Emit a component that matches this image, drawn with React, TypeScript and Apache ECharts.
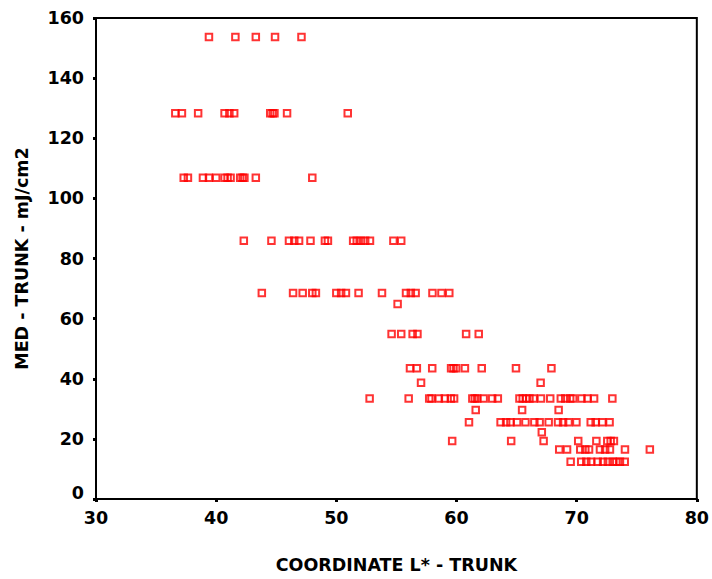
import React, { useEffect, useRef } from "react";
import * as echarts from "echarts";

// MED levels (y) and the L* values (x) observed at each level
const medLevels = [153.7, 128.3, 106.9, 85.9, 68.5, 64.9, 54.9, 43.5, 38.7, 33.4, 29.6, 25.5, 22.2, 19.3, 16.5, 12.4];

const lAt154 = [39.4, 41.6, 43.3, 44.9, 47.1];
const lAt128 = [36.6, 37.15, 38.5, 40.7, 41.1, 41.5, 44.5, 44.7, 44.85, 45.9, 50.95];
const lAt107 = [37.3, 37.65, 38.9, 39.4, 40.0, 40.7, 40.95, 41.2, 42.0, 42.2, 42.35, 43.3, 48.0];
const lAt86 = [42.3, 44.6, 46.06, 46.5, 46.9, 47.85, 49.05, 49.3, 51.4, 51.7, 52.05, 52.4, 52.8, 54.75, 55.4];
const lAt69 = [43.8, 46.4, 47.2, 48.0, 48.3, 50.0, 50.4, 50.8, 51.85, 53.8, 55.8, 56.2, 56.6, 58.0, 58.75, 59.4];
const lAt65 = [55.1];
const lAt55 = [54.6, 55.4, 56.35, 56.75, 60.8, 61.85];
const lAt44 = [56.13, 56.7, 57.98, 59.55, 59.75, 59.97, 60.7, 62.1, 64.95, 67.9];
const lAt39 = [57.05, 67.0];
const lAt34 = [52.77, 56.02, 57.73, 57.92, 58.53, 59.03, 59.53, 59.8, 61.32, 61.52, 61.73, 62.26, 62.97, 63.44, 65.24, 65.51, 65.79, 66.07, 66.42, 67.03, 67.8, 68.68, 69.05, 69.46, 69.71, 70.4, 70.9, 71.45, 72.97];
const lAt30 = [61.6, 65.46, 68.5];
const lAt26 = [61.04, 63.67, 64.13, 64.49, 65.04, 65.74, 66.48, 66.92, 67.67, 68.45, 68.87, 69.32, 69.98, 71.17, 71.58, 72.14, 72.74];
const lAt22 = [67.1];
const lAt19 = [59.64, 64.55, 67.25, 70.13, 71.64, 72.55, 72.83, 73.1];
const lAt17 = [68.55, 69.2, 70.3, 70.72, 71.03, 71.94, 72.37, 72.77, 74.02, 76.09];
const lAt12 = [69.5, 70.38, 70.8, 71.2, 71.75, 72.2, 72.6, 73.0, 73.3, 73.6, 74.0];

const lGroups = [lAt154, lAt128, lAt107, lAt86, lAt69, lAt65, lAt55, lAt44, lAt39, lAt34, lAt30, lAt26, lAt22, lAt19, lAt17, lAt12];

const xTicks = [30, 40, 50, 60, 70, 80];
const yTicks = [0, 20, 40, 60, 80, 100, 120, 140, 160];

const xTitle = "COORDINATE L* - TRUNK";
const yTitle = "MED - TRUNK - mJ/cm2";

export default function App() {
  const ref = useRef<HTMLDivElement>(null);

  useEffect(() => {
    if (!ref.current) return;
    const chart = echarts.init(ref.current, null, { renderer: "svg" });
    const data: number[][] = [];
    lGroups.forEach((g, i) => g.forEach((x) => data.push([x, medLevels[i]])));

    const labelFont = {
      fontFamily: "DejaVu Sans, Verdana, sans-serif",
      fontWeight: "bold" as const,
      fontSize: 17.5,
      color: "#000",
    };

    chart.setOption({
      animation: false,
      backgroundColor: "#fff",
      grid: {
        left: 96,
        right: 12,
        top: 18,
        bottom: 80,
        show: true,
        borderColor: "#000",
        borderWidth: 2,
        backgroundColor: "transparent",
      },
      xAxis: {
        type: "value",
        min: xTicks[0],
        max: xTicks[xTicks.length - 1],
        interval: 10,
        name: xTitle,
        nameLocation: "middle",
        nameGap: 57,
        nameTextStyle: { ...labelFont },
        axisLine: { show: true, lineStyle: { color: "#000", width: 2 } },
        axisTick: { show: true, length: 3, lineStyle: { color: "#000", width: 3 } },
        axisLabel: { ...labelFont, margin: 10 },
        splitLine: { show: false },
      },
      yAxis: {
        type: "value",
        min: yTicks[0],
        max: yTicks[yTicks.length - 1],
        interval: 20,
        name: yTitle,
        nameLocation: "middle",
        nameGap: 65,
        nameTextStyle: { ...labelFont },
        axisLine: { show: true, lineStyle: { color: "#000", width: 2 } },
        axisTick: { show: true, length: 3, lineStyle: { color: "#000", width: 3 } },
        axisLabel: {
          ...labelFont,
          margin: 12,
          formatter: (v: number) => (v === 0 ? "{z|0}" : String(v)),
          rich: { z: { ...labelFont, padding: [0, 0, 12, 0] } },
        },
        splitLine: { show: false },
      },
      series: [
        {
          type: "scatter",
          data,
          symbol: "rect",
          symbolSize: 6.5,
          itemStyle: { color: "rgba(0,0,0,0)", borderColor: "#ff0000", borderWidth: 2 },
          emphasis: { disabled: true },
        },
      ],
    });
    return () => chart.dispose();
  }, []);

  return (
    <div
      ref={ref}
      style={{ position: "absolute", left: 0, top: 0, width: 712, height: 579 }}
    />
  );
}
